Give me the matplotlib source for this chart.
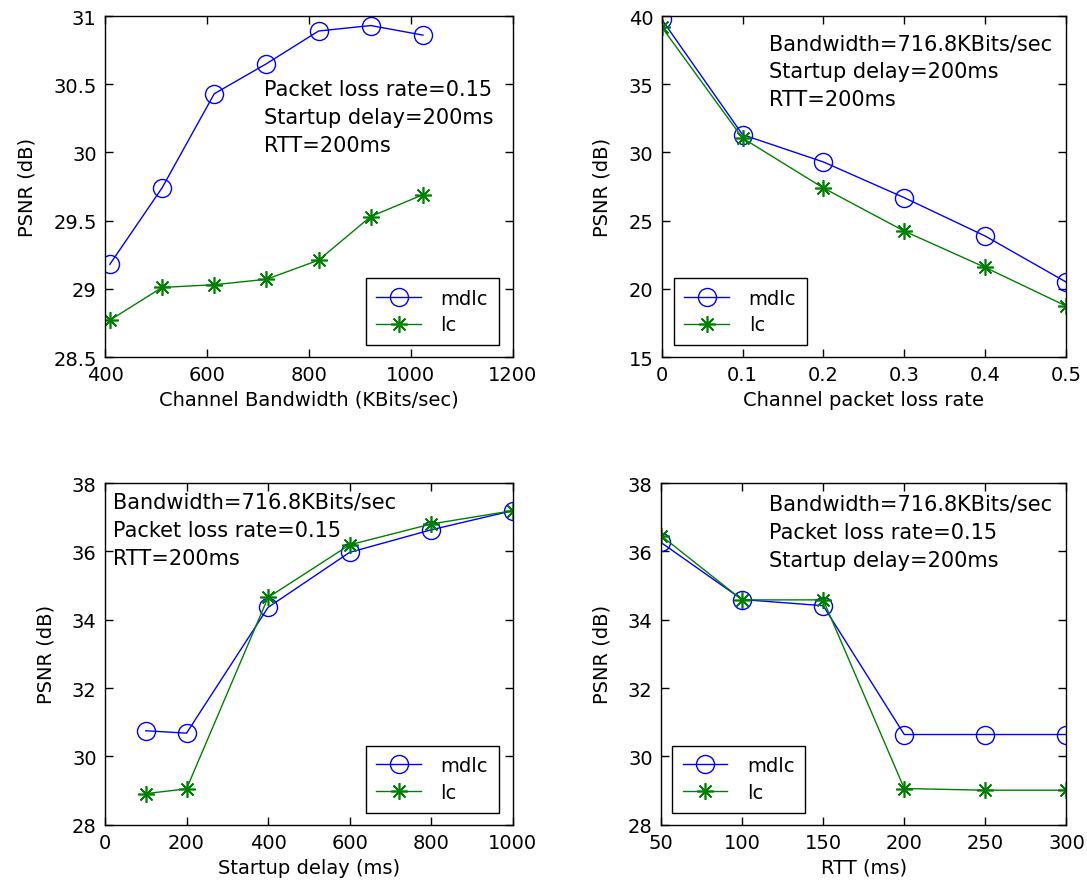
import matplotlib.pyplot as plt
from matplotlib.ticker import FormatStrFormatter

plt.rcParams['font.family'] = ['DejaVu Sans']

# Data
bw = [409.6, 512, 614.4, 716.8, 819.2, 921.6, 1024]
bw_mdlc = [29.18, 29.74, 30.43, 30.65, 30.89, 30.93, 30.86]
bw_lc = [28.77, 29.01, 29.03, 29.07, 29.21, 29.53, 29.69]

loss = [0, 0.1, 0.2, 0.3, 0.4, 0.5]
loss_mdlc = [39.76, 31.3, 29.3, 26.68, 23.87, 20.5]
loss_lc = [39.2, 31.05, 27.39, 24.23, 21.57, 18.74]

delay = [100, 200, 400, 600, 800, 1000]
delay_mdlc = [30.75, 30.68, 34.36, 35.97, 36.63, 37.19]
delay_lc = [28.91, 29.05, 34.65, 36.19, 36.80, 37.19]

rtt = [50, 100, 150, 200, 250, 300]
rtt_mdlc = [36.26, 34.59, 34.41, 30.64, 30.64, 30.64]
rtt_lc = [36.46, 34.58, 34.58, 29.06, 29.01, 29.01]

FS = 14
NOTE_FS = 15
BLUE = '#0000ff'
GREEN = '#008000'
STAR = (8, 2, 0)

fig = plt.figure(figsize=(10.87, 8.95), dpi=100)

def panel(rect, x, y1, y2, xlim, xticks, ylim, yticks, xlabel, note, note_xy, leg_loc, leg_anchor):
    ax = fig.add_axes(rect)
    ax.plot(x, y1, color=BLUE, lw=1, marker='o', ms=13, mfc='none', mec=BLUE, mew=1, label='mdlc')
    ax.plot(x, y2, color=GREEN, lw=1, marker=STAR, ms=12, mec=GREEN, mew=1.2, label='lc')
    ax.set_xlim(xlim)
    ax.set_ylim(ylim)
    ax.set_xticks(xticks)
    ax.set_yticks(yticks)
    ax.xaxis.set_major_formatter(FormatStrFormatter('%g'))
    ax.yaxis.set_major_formatter(FormatStrFormatter('%g'))
    ax.tick_params(direction='in', top=True, right=True, length=6, width=1,
                   labelsize=FS, pad=6)
    for s in ax.spines.values():
        s.set_linewidth(1)
    ax.set_xlabel(xlabel, fontsize=FS, labelpad=4)
    ax.set_ylabel('PSNR (dB)', fontsize=FS, labelpad=12)
    ax.text(note_xy[0], note_xy[1], note, transform=ax.transAxes, fontsize=NOTE_FS,
            va='top', ha='left', linespacing=1.5)
    leg = ax.legend(loc=leg_loc, bbox_to_anchor=leg_anchor, fontsize=FS, frameon=True,
                    fancybox=False, edgecolor='black', framealpha=1, handlelength=2.3,
                    borderpad=0.55, labelspacing=0.4, handletextpad=1.0, borderaxespad=0)
    leg.get_frame().set_linewidth(1)
    return ax

panel([0.0966, 0.600, 0.375, 0.381], bw, bw_mdlc, bw_lc, (400, 1200), range(400, 1201, 200),
      (28.5, 31), [28.5, 29, 29.5, 30, 30.5, 31], 'Channel Bandwidth (KBits/sec)',
      'Packet loss rate=0.15\nStartup delay=200ms\nRTT=200ms', (0.39, 0.815),
      'lower right', (0.966, 0.035))

panel([0.6087, 0.600, 0.372, 0.381], loss, loss_mdlc, loss_lc, (0, 0.5), loss,
      (15, 40), range(15, 41, 5), 'Channel packet loss rate',
      'Bandwidth=716.8KBits/sec\nStartup delay=200ms\nRTT=200ms', (0.265, 0.95),
      'lower left', (0.03, 0.035))

panel([0.0966, 0.0774, 0.375, 0.3818], delay, delay_mdlc, delay_lc, (0, 1000), range(0, 1001, 200),
      (28, 38), range(28, 39, 2), 'Startup delay (ms)',
      'Bandwidth=716.8KBits/sec\nPacket loss rate=0.15\nRTT=200ms', (0.019, 0.975),
      'lower right', (0.966, 0.035))

panel([0.6081, 0.0774, 0.373, 0.3818], rtt, rtt_mdlc, rtt_lc, (50, 300), rtt,
      (28, 38), range(28, 39, 2), 'RTT (ms)',
      'Bandwidth=716.8KBits/sec\nPacket loss rate=0.15\nStartup delay=200ms', (0.266, 0.968),
      'lower left', (0.027, 0.035))

fig.savefig('out.png', dpi=100)
